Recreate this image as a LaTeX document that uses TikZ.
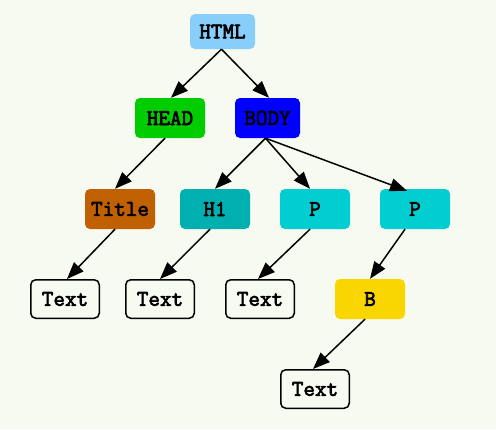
\documentclass[tikz,border=0pt]{standalone}
\usepackage{fontspec}
\newfontfamily\tagfont[FakeBold=3]{Latin Modern Mono}
\usetikzlibrary{arrows.meta}
\definecolor{bg}{RGB}{247,250,240}
\definecolor{htmlc}{RGB}{135,206,250}
\definecolor{headc}{RGB}{0,205,0}
\definecolor{bodyc}{RGB}{0,0,255}
\definecolor{titlec}{RGB}{192,96,0}
\definecolor{hc}{RGB}{0,176,176}
\definecolor{pc}{RGB}{0,206,209}
\definecolor{bc}{RGB}{250,214,0}
\begin{document}
\begin{tikzpicture}[x=1pt,y=-1pt,
  tag/.style={rounded corners=5pt, minimum width=70pt, minimum height=40pt, inner sep=0pt,
    font=\tagfont\fontsize{22.5}{24}\selectfont},
  elem/.style={tag, fill=#1, draw=none},
  txt/.style={tag, draw=black, line width=1.5pt, fill=bg, minimum width=68.5pt, minimum height=38.5pt},
  edge/.style={draw=black, line width=1.5pt, -{Triangle[length=17pt,width=13pt]}}]
\fill[bg] (0,0) rectangle (496,429);
\useasboundingbox (0,0) rectangle (496,429);
\node[elem=htmlc, minimum width=65pt, minimum height=35pt] (html) at (222.5,31.5) {HTML};
\node[elem=headc] (head) at (170,118) {HEAD};
\node[elem=bodyc, minimum width=65pt] (body) at (267.5,118) {BODY};
\node[elem=titlec] (title) at (120,209) {Title};
\node[elem=hc] (h1) at (215,209) {H1};
\node[elem=pc] (p1) at (315,209) {P};
\node[elem=pc] (p2) at (415,209) {P};
\node[txt] (t1) at (65,299) {Text};
\node[txt] (t2) at (160,299) {Text};
\node[txt] (t3) at (260,299) {Text};
\node[elem=bc] (b) at (370,299) {B};
\node[txt] (t4) at (315,389) {Text};
\draw[edge] ([xshift=-1pt]html.south) -- ([xshift=1pt]head.north);
\draw[edge] ([xshift=-1pt]html.south) -- ([xshift=1.5pt]body.north);
\draw[edge] ([xshift=-2pt]body.south) -- (h1.north);
\draw[edge] ([xshift=-2pt]body.south) -- ([xshift=-5pt]p1.north);
\draw[edge] ([xshift=-2pt]body.south) -- ([xshift=-8pt,yshift=-2pt]p2.north);
\draw[edge] ([xshift=-5pt]head.south) -- ([xshift=-5pt]title.north);
\draw[edge] ([xshift=-5pt]title.south) -- ([xshift=2pt]t1.north);
\draw[edge] ([xshift=-5pt]h1.south) -- (t2.north);
\draw[edge] ([xshift=-5pt]p1.south) -- ([xshift=-2pt]t3.north);
\draw[edge] ([xshift=-10pt]p2.south) -- ([xshift=0pt]b.north);
\draw[edge] ([xshift=-5pt]b.south) -- ([xshift=-2pt]t4.north);
\end{tikzpicture}
\end{document}
